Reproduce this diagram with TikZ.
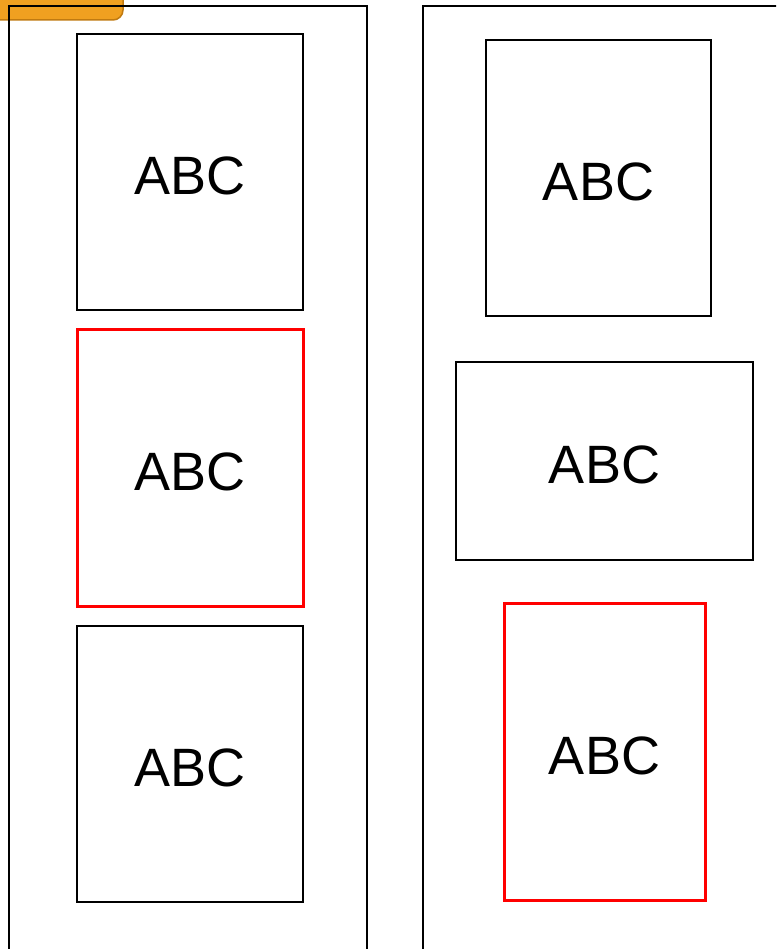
\documentclass[tikz,border=0pt]{standalone}
\usepackage{fontspec}
\setmainfont{Liberation Sans}
\definecolor{tabfill}{HTML}{F0A020}
\definecolor{tabedge}{HTML}{C07A10}
\begin{document}
\begin{tikzpicture}[x=1pt,y=-1pt,
  box/.style={draw=black,line width=2pt,inner sep=0pt,text height=45pt,text depth=0pt,font=\fontsize{54}{60}\selectfont},
  redbox/.style={box,draw=red,line width=3pt},
  panel/.style={draw=black,line width=2pt}]
\useasboundingbox (0,0) rectangle (776,949);
\clip (0,0) rectangle (776,949);
% tab
\draw[fill=tabfill,draw=tabedge,line width=1.5pt,rounded corners=10pt] (-30,-30) rectangle (123,20);
% panels
\draw[panel] (9,960) -- (9,6) -- (367,6) -- (367,960);
\draw[panel] (423,960) -- (423,6) -- (790,6);
% left boxes
\node[box,minimum width=226pt,minimum height=276pt] (l1) at (190,172) {ABC};
\node[redbox,minimum width=226pt,minimum height=277pt] (l2) at (190,467.5) {ABC};
\node[box,minimum width=226pt,minimum height=276pt] (l3) at (190,764) {ABC};
% right boxes
\node[box,minimum width=225pt,minimum height=276pt] (r1) at (598.5,178) {ABC};
\node[box,minimum width=297pt,minimum height=198pt] (r2) at (604.5,461) {ABC};
\node[redbox,minimum width=201pt,minimum height=297pt] (r3) at (604.5,751.5) {ABC};
\end{tikzpicture}
\end{document}
